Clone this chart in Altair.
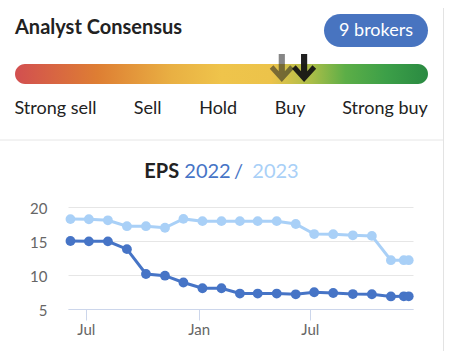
import altair as alt
import pandas as pd

# ---------------- data ----------------
dates = ["2021-06-06", "2021-07-06", "2021-08-06", "2021-09-06", "2021-10-07",
         "2021-11-07", "2021-12-07", "2022-01-07", "2022-02-07", "2022-03-09",
         "2022-04-07", "2022-05-08", "2022-06-08", "2022-07-08", "2022-08-08",
         "2022-09-09", "2022-10-10", "2022-11-10", "2022-12-01", "2022-12-09"]
eps_2022 = [15.0, 14.95, 14.95, 13.8, 10.15, 9.9, 8.9, 8.05, 8.05, 7.27,
            7.27, 7.27, 7.16, 7.46, 7.35, 7.2, 7.17, 6.85, 6.87, 6.87]
eps_2023 = [18.22, 18.2, 18.04, 17.18, 17.18, 16.95, 18.25, 17.92, 17.92, 17.92,
            17.92, 17.92, 17.5, 16.02, 16.0, 15.84, 15.75, 12.18, 12.18, 12.18]
series_names = ["2022", "2023"]

rating_labels = ["Strong sell", "Sell", "Hold", "Buy", "Strong buy"]
rating_label_pos = [9.8, 32.1, 49.2, 66.6, 89.6]   # position on 0-100 gauge
consensus_previous = 64.6
consensus_current = 70.0
brokers = 9

# ---------------- styling ----------------
DARK = "#4674c6"
LIGHT = "#a9d0f7"
FONT = "Lato"
W, H = 345, 102

eps_df = pd.DataFrame({
    "date": dates * 2,
    "eps": eps_2022 + eps_2023,
    "series": [series_names[0]] * len(dates) + [series_names[1]] * len(dates),
})

eps = alt.Chart(eps_df).mark_line(
    strokeWidth=3,
    point=alt.OverlayMarkDef(filled=True, size=96, opacity=1),
).encode(
    x=alt.X("date:T",
            scale=alt.Scale(domain=[alt.DateTime(year=2021, month=6, date=2),
                                    alt.DateTime(year=2022, month=12, date=16)]),
            axis=alt.Axis(values=[alt.DateTime(year=2021, month=7, date=1),
                                  alt.DateTime(year=2022, month=1, date=1),
                                  alt.DateTime(year=2022, month=7, date=1)],
                          format="%b", title=None, grid=False,
                          domainColor="#ccd6eb", tickColor="#ccd6eb", tickSize=11,
                          labelFont=FONT, labelFontSize=15, labelColor="#666666",
                          labelPadding=2)),
    y=alt.Y("eps:Q", scale=alt.Scale(domain=[5, 20]),
            axis=alt.Axis(values=[5, 10, 15, 20], title=None, domain=False, ticks=False,
                          gridColor="#e6e6e6", labelFont=FONT, labelFontSize=15,
                          labelColor="#666666", labelPadding=21, labelOffset=1)),
    color=alt.Color("series:N", scale=alt.Scale(domain=series_names, range=[DARK, LIGHT]),
                    legend=None),
)

# ---------------- gauge (analyst consensus) ----------------
gauge_scale = alt.Scale(domain=[0, 100], range=[-53, 360])


def gx(field):
    return alt.X(field, type="quantitative", scale=gauge_scale, axis=None)


gradient = alt.LinearGradient(
    gradient="linear", x1=0, x2=1, y1=0, y2=0,
    stops=[
        alt.GradientStop(color="#d24f50", offset=0),
        alt.GradientStop(color="#de7e33", offset=0.2),
        alt.GradientStop(color="#e9b043", offset=0.38),
        alt.GradientStop(color="#efc44b", offset=0.5),
        alt.GradientStop(color="#ecc34a", offset=0.62),
        alt.GradientStop(color="#a8bd48", offset=0.72),
        alt.GradientStop(color="#5cae47", offset=0.8),
        alt.GradientStop(color="#3c9f48", offset=0.9),
        alt.GradientStop(color="#2a8a42", offset=1),
    ],
)

bar = alt.Chart(pd.DataFrame({"lo": [0], "hi": [100]})).mark_rect(
    cornerRadius=10, fill=gradient
).encode(x=gx("lo"), x2="hi", y=alt.value(-143), y2=alt.value(-123))

ARROW = ("M -0.22 -1 L 0.22 -1 L 0.22 0.24 L 0.6 -0.2 L 0.86 0.06 L 0 1 "
         "L -0.86 0.06 L -0.6 -0.2 L -0.22 0.24 Z")

arrow_prev = alt.Chart(pd.DataFrame({"pos": [consensus_previous]})).mark_point(
    shape=ARROW, filled=True, size=784, color="#222222", opacity=0.55, strokeWidth=0
).encode(x=gx("pos"), y=alt.value(-139))

arrow_now = alt.Chart(pd.DataFrame({"pos": [consensus_current]})).mark_point(
    shape=ARROW, filled=True, size=784, color="#141414", opacity=0.95, strokeWidth=0
).encode(x=gx("pos"), y=alt.value(-139))

labels = alt.Chart(pd.DataFrame({"label": rating_labels, "pos": rating_label_pos})).mark_text(
    font=FONT, fontSize=18, color="#222222", align="center", baseline="alphabetic"
).encode(x=gx("pos"), y=alt.value(-92.7), text="label:N")

title_txt = alt.Chart(pd.DataFrame({"t": ["Analyst Consensus"]})).mark_text(
    font=FONT, fontSize=20, fontWeight="bold", color="#222222", align="left",
    baseline="alphabetic"
).encode(x=alt.value(-53), y=alt.value(-172.7), text="t:N")

badge = alt.Chart(pd.DataFrame({"n": [brokers]})).mark_rect(
    cornerRadius=16.5, color="#4874c0"
).encode(x=alt.value(256), x2=alt.value(360), y=alt.value(-193), y2=alt.value(-160))

badge_txt = alt.Chart(pd.DataFrame({"t": [f"{brokers} brokers"]})).mark_text(
    font=FONT, fontSize=18, color="white", align="center", baseline="alphabetic"
).encode(x=alt.value(308), y=alt.value(-171), text="t:N")

# ---------------- EPS title ----------------
def title_part(txt, xpos, color, weight):
    return alt.Chart(pd.DataFrame({"t": [txt]})).mark_text(
        font=FONT, fontSize=20, fontWeight=weight, color=color, align="left",
        baseline="alphabetic"
    ).encode(x=alt.value(xpos), y=alt.value(-28.7), text="t:N")


t_eps = title_part("EPS", 76.3, "#222222", "bold")
t_2022 = title_part(series_names[0], 116.3, DARK, "normal")
t_slash = title_part("/", 166, DARK, "normal")
t_2023 = title_part(series_names[1], 184.3, LIGHT, "normal")

# ---------------- card borders ----------------
sep = alt.Chart(pd.DataFrame({"a": [0]})).mark_rule(color="#e6e6e6", strokeWidth=1).encode(
    x=alt.value(-68), x2=alt.value(375.5), y=alt.value(-67))
vborder = alt.Chart(pd.DataFrame({"a": [0]})).mark_rule(color="#e3e3e3", strokeWidth=1).encode(
    x=alt.value(375.5), y=alt.value(-199), y2=alt.value(144))

chart = alt.layer(
    sep, vborder, eps, bar, arrow_prev, arrow_now, labels, title_txt, badge, badge_txt,
    t_eps, t_2022, t_slash, t_2023,
).resolve_scale(x="independent").properties(
    width=W, height=H,
    autosize=alt.AutoSizeParams(type="none"),
    padding={"left": 68, "top": 207, "right": 42, "bottom": 42},
    background="white",
).configure_view(stroke=None)

chart.save("out.html", embed_options={"renderer": "svg", "actions": False})
